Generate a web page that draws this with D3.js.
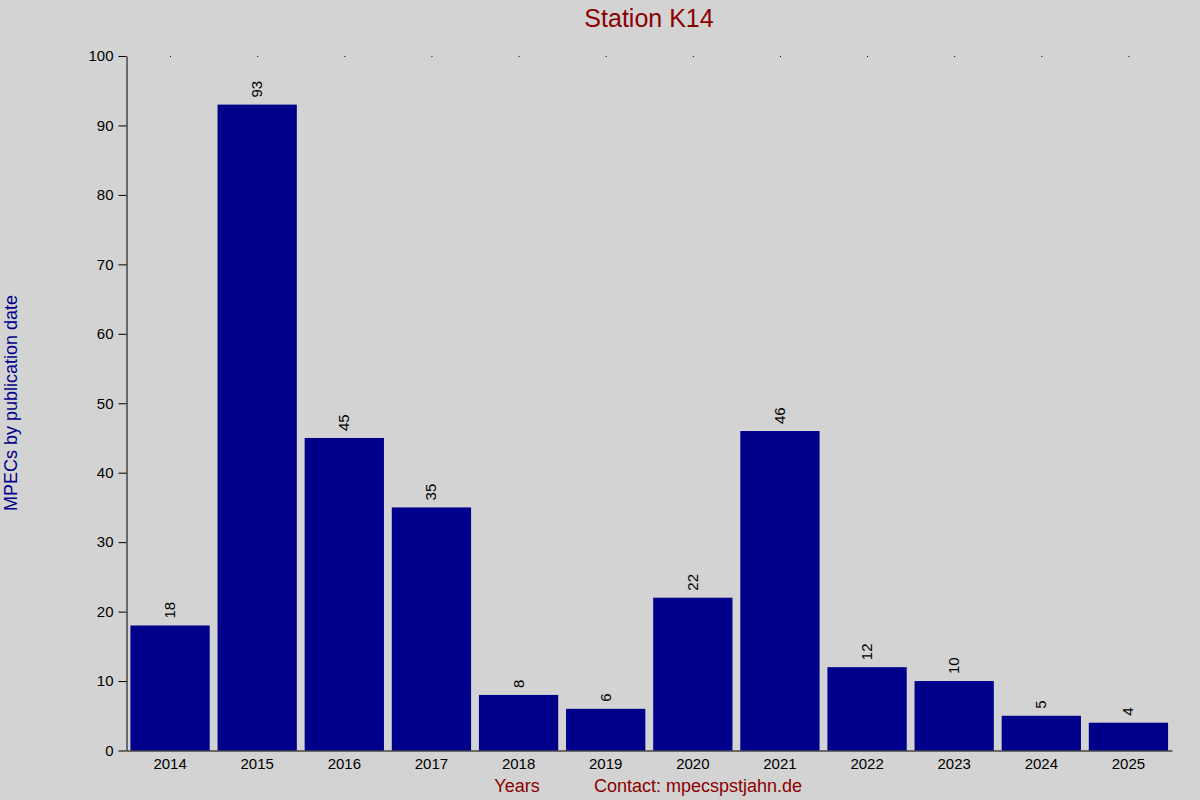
<!DOCTYPE html>
<html><head><meta charset="utf-8">
<script src="https://cdn.jsdelivr.net/npm/d3@7"></script>
<style>body{margin:0;background:#d3d3d3}text{font-family:"Liberation Sans",Arial,sans-serif}</style>
</head><body><div id="chart"></div>
<script>
var years = ["2014","2015","2016","2017","2018","2019","2020","2021","2022","2023","2024","2025"];
var counts = [18, 93, 45, 35, 8, 6, 22, 46, 12, 10, 5, 4];
var yTicks = [0,10,20,30,40,50,60,70,80,90,100];

var w = 1200, h = 800;
var plotLeft = 126.5, plotRight = 1172, plotTop = 56, plotBottom = 750.5;

var svg = d3.select("#chart").append("svg")
    .attr("width", w).attr("height", h)
    .style("background", "#d3d3d3");

var xScale = d3.scaleBand().domain(years).range([plotLeft, plotRight]).paddingInner(0.09).paddingOuter(0.045);
var yScale = d3.scaleLinear().domain([0, 100]).range([plotBottom, plotTop]);

// bars
svg.selectAll("rect.bar").data(counts).enter().append("rect")
    .attr("class", "bar")
    .attr("x", function (d, i) { return xScale(years[i]); })
    .attr("y", function (d) { return yScale(d); })
    .attr("width", xScale.bandwidth())
    .attr("height", function (d) { return plotBottom - yScale(d); })
    .attr("fill", "#00008b");

// value labels, rotated
svg.selectAll("text.val").data(counts).enter().append("text")
    .attr("class", "val")
    .attr("transform", function (d, i) {
        return "translate(" + (xScale(years[i]) + xScale.bandwidth() / 2 + 5) + "," + (yScale(d) - 7) + ") rotate(-90)";
    })
    .attr("font-size", 15).attr("fill", "#000")
    .text(function (d) { return d; });

// top dots
svg.selectAll("rect.dot").data(years).enter().append("rect")
    .attr("class", "dot")
    .attr("x", function (d) { return xScale(d) + xScale.bandwidth() / 2; })
    .attr("y", plotTop).attr("width", 1).attr("height", 1).attr("fill", "#000");

// y axis
var yAxis = d3.axisLeft(yScale).tickValues(yTicks).tickSize(8).tickSizeOuter(0);
var gy = svg.append("g").attr("transform", "translate(" + plotLeft + ",0)").call(yAxis);
gy.selectAll("text").attr("font-size", 15).attr("fill", "#000").attr("dx", -2)
    .attr("font-family", "Liberation Sans, Arial, sans-serif");
gy.select(".domain").attr("stroke", "#000");

// x axis
var xAxis = d3.axisBottom(xScale).tickSize(0).tickSizeOuter(0);
var gx = svg.append("g").attr("transform", "translate(0," + plotBottom + ")").call(xAxis);
gx.selectAll("text").attr("font-size", 15).attr("fill", "#000").attr("dy", "1.05em")
    .attr("font-family", "Liberation Sans, Arial, sans-serif");
gx.select(".domain").attr("stroke", "#000");

// titles
svg.append("text").attr("x", 649).attr("y", 27).attr("text-anchor", "middle")
    .attr("font-size", 25).attr("fill", "#8b0000").text("Station K14");
svg.append("text").attr("x", 517).attr("y", 792).attr("text-anchor", "middle")
    .attr("font-size", 18).attr("fill", "#8b0000").text("Years");
svg.append("text").attr("x", 698).attr("y", 792).attr("text-anchor", "middle")
    .attr("font-size", 18).attr("fill", "#8b0000").text("Contact: mpecspstjahn.de");
svg.append("text").attr("transform", "translate(17,403) rotate(-90)").attr("text-anchor", "middle")
    .attr("font-size", 18).attr("fill", "#00008b").text("MPECs by publication date");
</script></body></html>
